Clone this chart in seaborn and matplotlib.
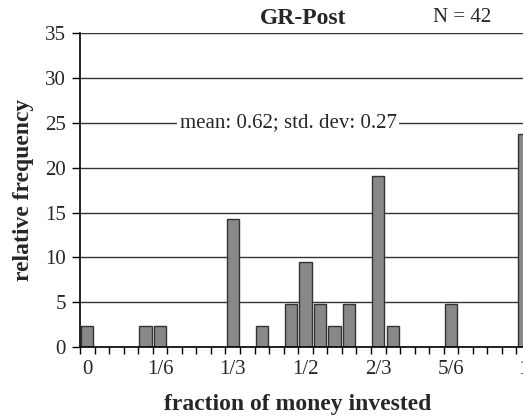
import numpy as np
import pandas as pd
import seaborn as sns
import matplotlib.pyplot as plt

# 31 bins from 0 to 1 in steps of 1/30, counts out of N = 42
bins = list(range(31))
rel_freq = [2.38, 0, 0, 0, 2.38, 2.38, 0, 0, 0, 0,
            14.29, 0, 2.38, 0, 4.76, 9.52, 4.76, 2.38, 4.76, 0,
            19.05, 2.38, 0, 0, 0, 4.76, 0, 0, 0, 0,
            23.81]
label_pos = [0, 5, 10, 15, 20, 25, 30]
label_txt = ['0', '1/6', '1/3', '1/2', '2/3', '5/6', '1']
y_ticks = [0, 5, 10, 15, 20, 25, 30, 35]

sns.set_style('white')
plt.rcParams['font.family'] = ['Liberation Serif', 'DejaVu Serif']

df = pd.DataFrame({'bin': bins, 'freq': rel_freq})

fig = plt.figure(figsize=(5.23, 4.2), dpi=100)
ax = fig.add_axes([80 / 523, 73 / 420, 451 / 523, 313.7 / 420])

# grid lines behind the bars
for y in y_ticks[1:]:
    ax.axhline(y, color='#333333', lw=1.0, zorder=0)

sns.barplot(data=df, x='bin', y='freq', order=bins, color='#888888',
            width=0.85, edgecolor='#333333', linewidth=1.0,
            saturation=1, ax=ax, zorder=2)

ax.set_xlim(-0.5, 30.5)
ax.set_ylim(0, 35)
ax.set_yticks(y_ticks)
ax.set_yticklabels([str(v) for v in y_ticks], fontsize=15)
ax.set_xticks(label_pos)
ax.set_xticklabels(label_txt, fontsize=15)
ax.set_xticks(np.arange(-0.5, 31, 1), minor=True)
ax.tick_params(axis='x', which='major', length=0, pad=9)
ax.tick_params(axis='x', which='minor', length=5, width=1, color='black', direction='out')
ax.tick_params(axis='y', length=6, width=1, color='black', direction='out', pad=4)
ax.xaxis.set_ticks_position('bottom')
ax.yaxis.set_ticks_position('left')

for s in ['top', 'right']:
    ax.spines[s].set_visible(False)
for s in ['left', 'bottom']:
    ax.spines[s].set_color('black')
    ax.spines[s].set_linewidth(1.2)

ax.set_xlabel('fraction of money invested', fontsize=17, fontweight='bold')
ax.xaxis.set_label_coords(0.483, -0.15)
ax.set_ylabel('relative frequency', fontsize=17, fontweight='bold', labelpad=8)

ax.text(13.8, 25, 'mean: 0.62; std. dev: 0.27', fontsize=15, ha='center', va='center',
        bbox=dict(facecolor='white', edgecolor='none', pad=2), zorder=3)

fig.text(303 / 523, 1 - 18 / 420, 'GR-Post', fontsize=17, fontweight='bold',
         ha='center', va='center')
fig.text(462 / 523, 1 - 18 / 420, 'N = 42', fontsize=15, ha='center', va='center')

fig.savefig('out.png', dpi=100)
